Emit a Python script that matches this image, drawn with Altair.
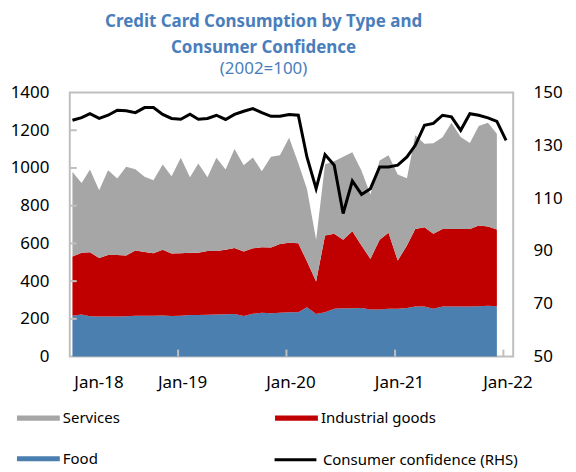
import altair as alt
import pandas as pd

# Monthly observations (plotted ~10th of each month, as in the source chart)
months = [f"{y}-{m:02d}-10" for y in range(2018, 2022) for m in range(1, 13)]
conf_months = months + ["2022-01-10"]

food = [217, 223, 214, 213, 212, 213, 214, 216, 216, 217, 218, 215,
        217, 220, 221, 222, 223, 224, 226, 215, 227, 232, 230, 232,
        235, 235, 261, 226, 235, 253, 256, 256, 258, 249, 249, 253,
        253, 258, 265, 265, 253, 265, 265, 265, 265, 267, 270, 267]
industrial = [313, 328, 339, 310, 327, 326, 322, 346, 339, 331, 348, 331,
              331, 330, 330, 338, 337, 342, 350, 342, 347, 348, 348, 365,
              368, 366, 244, 172, 407, 398, 364, 409, 331, 269, 371, 403,
              256, 331, 412, 421, 398, 412, 412, 412, 412, 428, 420, 407]
services = [449, 370, 439, 359, 449, 405, 470, 431, 398, 387, 452, 410,
            506, 401, 473, 391, 494, 426, 524, 458, 481, 403, 481, 471,
            557, 424, 385, 222, 378, 384, 440, 419, 396, 342, 420, 411,
            456, 356, 496, 443, 480, 486, 563, 487, 456, 527, 550, 508]
confidence = [139.5, 140.5, 142.0, 140.2, 141.4, 143.3, 143.1, 142.4, 144.3, 144.3, 141.7, 140.2,
              139.9, 141.8, 139.9, 140.2, 141.4, 139.8, 141.7, 142.9, 143.9, 142.4, 141.0, 141.0,
              141.7, 141.4, 125.6, 113.6, 126.5, 122.5, 104.2, 116.5, 111.4, 113.6, 121.8, 121.8,
              122.5, 125.6, 130.0, 137.6, 138.3, 141.4, 140.8, 135.7, 142.0, 141.4, 140.4, 139.1,
              131.9]

series_names = ["Services", "Industrial goods", "Food"]
series_colors = ["#a6a6a6", "#c00000", "#4a7fb0"]
line_name = "Consumer confidence (RHS)"

left_ticks = [0, 200, 400, 600, 800, 1000, 1200, 1400]
right_ticks = [50, 70, 90, 110, 130, 150]
year_ticks = [2018, 2019, 2020, 2021, 2022]

frames = []
for name, vals, order in [("Food", food, 0), ("Industrial goods", industrial, 1), ("Services", services, 2)]:
    frames.append(pd.DataFrame({"date": months, "type": name, "value": vals, "ord": order}))
area_df = pd.concat(frames, ignore_index=True)
line_df = pd.DataFrame({"date": conf_months, "conf": confidence, "series": line_name})
ytick_df = pd.DataFrame({"value": left_ticks[1:-1]})
xtick_df = pd.DataFrame({"date": [f"{y}-01-01" for y in year_ticks[1:]]})

FONT = "Noto Sans"
GRID = "#bfbfbf"

x_scale = alt.Scale(type="utc",
                    domain=[alt.DateTime(year=2018, month=1, date=1, utc=True),
                            alt.DateTime(year=2022, month=2, date=3, utc=True)])
x_axis = alt.Axis(values=[alt.DateTime(year=y, month=1, date=1, utc=True) for y in year_ticks],
                  format="%b-%y", labelFontSize=17, labelPadding=18, labelOffset=4,
                  title=None, ticks=False, domain=False, grid=False, labelColor="#000")
x_enc = alt.X("date:T", scale=x_scale, axis=x_axis)

y_scale = alt.Scale(domain=[0, 1400], nice=False, zero=True)
y_axis = alt.Axis(values=left_ticks, format="d", labelFontSize=17, labelPadding=21, title=None,
                  ticks=False, domain=False, grid=False, labelColor="#000")

area = alt.Chart(area_df).mark_area(interpolate="linear").encode(
    x=x_enc,
    y=alt.Y("value:Q", stack="zero", scale=y_scale, axis=y_axis),
    color=alt.Color("type:N",
                    scale=alt.Scale(domain=series_names, range=series_colors),
                    legend=alt.Legend(title=None, orient="none", legendX=-53, legendY=305,
                                      values=series_names, direction="horizontal",
                                      columns=2, columnPadding=155, rowPadding=11,
                                      symbolType="M-1,-0.12H1V0.12H-1Z", symbolSize=1849,
                                      symbolStrokeWidth=0, labelFontSize=15, labelOffset=3,
                                      labelLimit=300, labelColor="#000", labelFont=FONT)),
    order=alt.Order("ord:Q", sort="ascending"),
)

yticks = alt.Chart(ytick_df).mark_rule(color=GRID, strokeWidth=2).encode(
    x=alt.value(0), x2=alt.value(7),
    y=alt.Y("value:Q", scale=y_scale, axis=y_axis),
)

xticks = alt.Chart(xtick_df).mark_rule(color=GRID, strokeWidth=2).encode(
    x=x_enc, y=alt.value(265), y2=alt.value(258),
)

line = alt.Chart(line_df).mark_line(strokeWidth=3, strokeJoin="miter").encode(
    x=x_enc,
    y=alt.Y("conf:Q", scale=alt.Scale(domain=[50, 150], nice=False, zero=False),
            axis=alt.Axis(orient="right", values=right_ticks, labelFontSize=17, labelPadding=20,
                          title=None, ticks=False, domain=False, grid=False, labelColor="#000")),
    stroke=alt.Stroke("series:N", scale=alt.Scale(domain=[line_name], range=["#000000"]),
                      legend=alt.Legend(title=None, orient="none", legendX=204, legendY=346,
                                        symbolType="M-1,0H1", symbolSize=1764, symbolStrokeWidth=3,
                                        labelFontSize=15, labelOffset=5, labelLimit=300,
                                        labelColor="#000", labelFont=FONT)),
)

chart = alt.layer(alt.layer(area, yticks, xticks), line).resolve_scale(
    y="independent"
).properties(
    width=445,
    height=265,
    padding={"left": 2, "top": 4, "right": 5, "bottom": 5},
    title=alt.TitleParams(
        text=["Credit Card Consumption by Type and", "Consumer Confidence"],
        subtitle="(2002=100)",
        fontSize=17, fontWeight="bold", color="#4a7ebb", font=FONT, lineHeight=26,
        subtitleFontSize=17, subtitleColor="#4a7ebb", subtitleFont=FONT,
        subtitlePadding=4, anchor="middle", frame="group", dx=-28, offset=6,
    ),
).configure(font=FONT).configure_view(stroke=GRID, strokeWidth=2)

chart.save("out.html", embed_options={"renderer": "svg", "actions": False})
